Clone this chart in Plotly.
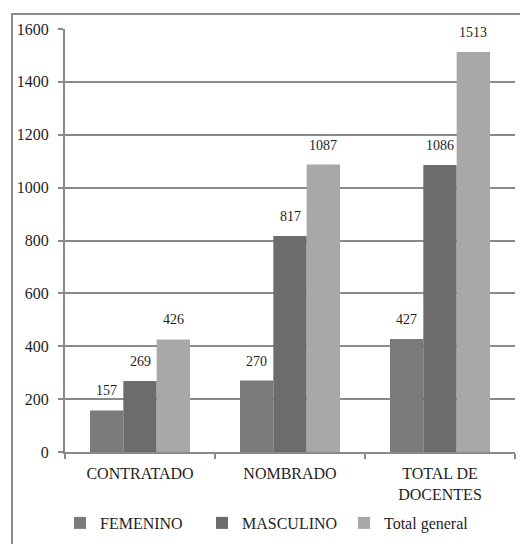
import plotly.graph_objects as go

# Docentes por condición y sexo
categorias = ["CONTRATADO", "NOMBRADO", "TOTAL DE<br>DOCENTES"]
femenino = [157, 270, 427]
masculino = [269, 817, 1086]
total_general = [426, 1087, 1513]

series = [
    ("FEMENINO", femenino, "#7b7b7b"),
    ("MASCULINO", masculino, "#6c6c6c"),
    ("Total general", total_general, "#a8a8a8"),
]

SERIF = "Liberation Serif"
INK = "#1e1e1e"
LINE = "#8a8a8a"

fig = go.Figure()
for nombre, valores, color in series:
    fig.add_trace(go.Bar(
        x=categorias, y=valores, name=nombre,
        marker=dict(color=color, line=dict(width=0)),
    ))

# value labels sitting above each bar of the group
bar_px = 150 * (1 - 1 / 3) / 3
for i, (nombre, valores, color) in enumerate(series):
    for cat, v in zip(categorias, valores):
        fig.add_annotation(
            x=cat, y=v, xref="x", yref="y",
            text=str(v), showarrow=False,
            xshift=(i - 1) * bar_px, yshift=10, yanchor="bottom",
            font=dict(family=SERIF, size=14, color=INK),
        )

# outer frame around the whole chart
fig.add_shape(
    type="rect", xref="paper", yref="paper",
    x0=(12 - 65) / 450, x1=(530 - 65) / 450,
    y0=(453 - 560) / 424, y1=1 + 15 / 424,
    line=dict(color=LINE, width=2), fillcolor="rgba(0,0,0,0)",
    layer="below",
)

fig.update_layout(
    width=520, height=544,
    margin=dict(l=65, r=5, t=29, b=91),
    paper_bgcolor="white", plot_bgcolor="white",
    barmode="group", bargap=1 / 3, bargroupgap=0,
    font=dict(family=SERIF, size=16, color=INK),
    showlegend=True,
    legend=dict(
        orientation="h", x=(60 - 65) / 450, xanchor="left",
        y=(453 - 523) / 424, yanchor="middle",
        font=dict(family=SERIF, size=16, color=INK),
        itemwidth=30, traceorder="normal",
        entrywidth=97, entrywidthmode="pixels",
        bgcolor="rgba(0,0,0,0)",
    ),
)

fig.update_xaxes(
    showline=True, linecolor=LINE, linewidth=2,
    ticks="outside", tickson="boundaries", ticklen=5, tickcolor=LINE, tickwidth=2,
    ticklabelstandoff=6,
    tickfont=dict(family=SERIF, size=16, color=INK),
    showgrid=False, fixedrange=True,
)
fig.update_yaxes(
    range=[0, 1600], dtick=200,
    showline=True, linecolor=LINE, linewidth=2,
    ticks="outside", ticklen=5, tickcolor=LINE, tickwidth=2,
    ticklabelstandoff=6,
    tickfont=dict(family=SERIF, size=16, color=INK),
    showgrid=True, gridcolor=LINE, gridwidth=2,
    zeroline=False, fixedrange=True,
)

fig.write_html("out.html")
